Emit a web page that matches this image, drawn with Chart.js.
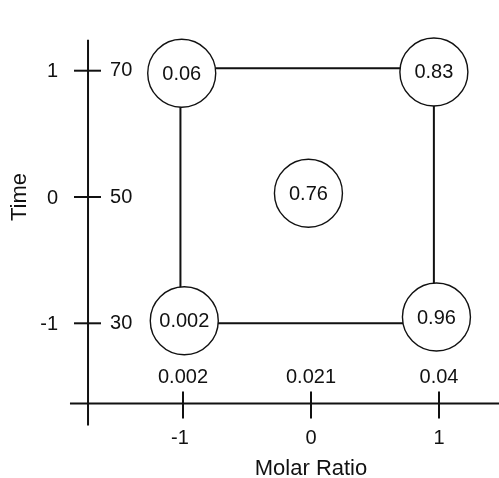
<!DOCTYPE html>
<html>
<head>
<meta charset="utf-8">
<script src="https://cdn.jsdelivr.net/npm/chart.js@4.4.1/dist/chart.umd.min.js"></script>
<style>
html,body{margin:0;padding:0;background:#fff;}
#wrap{width:499px;height:478px;}
</style>
</head>
<body>
<div id="wrap"><canvas id="c" width="499" height="478"></canvas></div>
<script>
// ---- data ----
const xCodes = [-1, 0, 1];
const xActualLabels = ['0.002', '0.021', '0.04'];
const yCodes = [-1, 0, 1];
const yActualLabels = ['30', '50', '70'];
const pointX = [-1.01, 0.96, -0.02, -0.99, 0.98];
const pointY = [0.98, 0.99, 0.03, -0.98, -0.95];
const pointLabels = ['0.06', '0.83', '0.76', '0.002', '0.96'];
const frameX = [-1.02, 0.96, 0.96, -1.02, -1.02];
const frameY = [1.02, 1.02, -1.0, -1.0, 1.02];
const xTitle = 'Molar Ratio';
const yTitle = 'Time';

const INK = '#111111';
const FONT = '"Liberation Sans", Arial, Helvetica, sans-serif';

const axesPlugin = {
  id: 'designAxes',
  beforeDatasetsDraw(chart) {
    const ctx = chart.ctx;
    const xs = chart.scales.x, ys = chart.scales.y;
    const axisY = ys.getPixelForValue(-1.635);   // x-axis line position
    const axisX = xs.getPixelForValue(-1.742);   // y-axis line position
    ctx.save();
    ctx.strokeStyle = INK;
    ctx.lineWidth = 2;
    // x axis
    ctx.beginPath();
    ctx.moveTo(xs.getPixelForValue(-1.883), axisY);
    ctx.lineTo(chart.width, axisY);
    ctx.stroke();
    // y axis
    ctx.beginPath();
    ctx.moveTo(axisX, ys.getPixelForValue(1.246));
    ctx.lineTo(axisX, ys.getPixelForValue(-1.81));
    ctx.stroke();
    ctx.fillStyle = INK;
    ctx.font = '20px ' + FONT;
    // x ticks
    xCodes.forEach((v, i) => {
      const px = xs.getPixelForValue(v);
      ctx.beginPath();
      ctx.moveTo(px, axisY - 12);
      ctx.lineTo(px, axisY + 15);
      ctx.stroke();
      ctx.textAlign = 'center';
      ctx.textBaseline = 'middle';
      ctx.fillText(xActualLabels[i], px, axisY - 26);
      ctx.fillText(String(v), px - (v < 0 ? 3 : 0), axisY + 35);
    });
    // y ticks
    yCodes.forEach((v, i) => {
      const py = ys.getPixelForValue(v);
      ctx.beginPath();
      ctx.moveTo(axisX - 14, py);
      ctx.lineTo(axisX + 13, py);
      ctx.stroke();
      ctx.textBaseline = 'middle';
      ctx.textAlign = 'right';
      ctx.fillText(String(v), axisX - 30, py + 1);
      ctx.textAlign = 'left';
      ctx.fillText(yActualLabels[i], axisX + 22, py);
    });
    // titles
    ctx.font = '22px ' + FONT;
    ctx.textAlign = 'center';
    ctx.textBaseline = 'middle';
    ctx.fillText(xTitle, xs.getPixelForValue(0), axisY + 65);
    ctx.save();
    ctx.translate(20, ys.getPixelForValue(0));
    ctx.rotate(-Math.PI / 2);
    ctx.fillText(yTitle, 0, 0);
    ctx.restore();
    ctx.restore();
  },
  afterDatasetsDraw(chart) {
    const ctx = chart.ctx;
    const meta = chart.getDatasetMeta(1);
    ctx.save();
    ctx.fillStyle = INK;
    ctx.font = '20px ' + FONT;
    ctx.textAlign = 'center';
    ctx.textBaseline = 'middle';
    meta.data.forEach((el, i) => {
      ctx.fillText(pointLabels[i], el.x, el.y + 1);
    });
    ctx.restore();
  }
};

new Chart(document.getElementById('c'), {
  type: 'scatter',
  data: {
    datasets: [
      {
        type: 'line',
        data: frameX.map((x, i) => ({x, y: frameY[i]})),
        borderColor: INK,
        borderWidth: 2,
        pointRadius: 0,
        fill: false,
        tension: 0,
        order: 2,
        clip: false
      },
      {
        data: pointX.map((x, i) => ({x, y: pointY[i]})),
        pointRadius: 34,
        pointHoverRadius: 34,
        pointStyle: 'circle',
        backgroundColor: '#ffffff',
        borderColor: INK,
        borderWidth: 1.4,
        order: 1,
        clip: false
      }
    ]
  },
  options: {
    responsive: false,
    animation: false,
    events: [],
    layout: { padding: 0, autoPadding: false },
    plugins: { legend: { display: false }, tooltip: { enabled: false } },
    scales: {
      x: { type: 'linear', display: false, min: -311 / 128, max: 188 / 128 },
      y: { type: 'linear', display: false, min: -281 / 126.3, max: 197 / 126.3 }
    }
  },
  plugins: [axesPlugin]
});
</script>
</body>
</html>
